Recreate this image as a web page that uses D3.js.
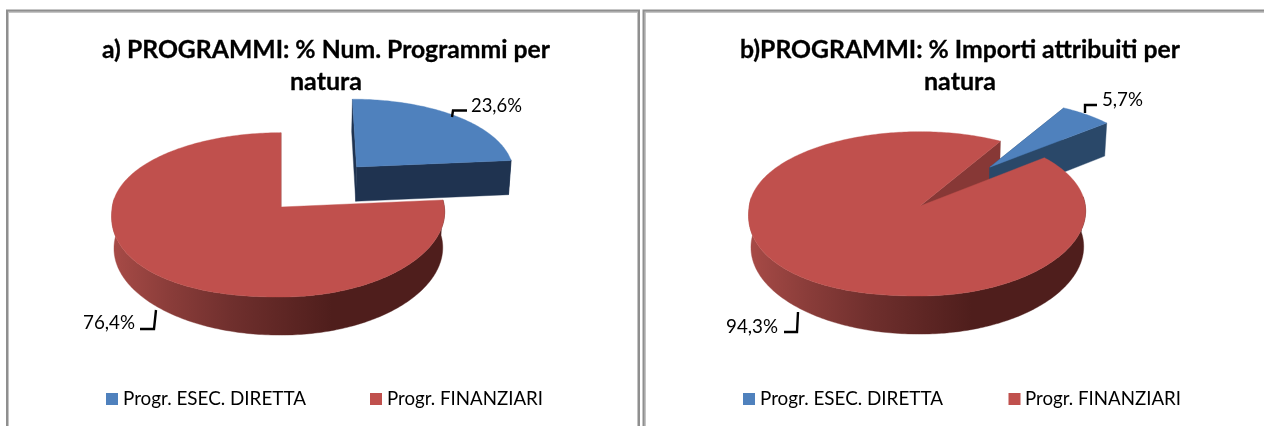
<!DOCTYPE html>
<html><head><meta charset="utf-8">
<script src="https://cdn.jsdelivr.net/npm/d3@7/dist/d3.min.js"></script>
<style>html,body{margin:0;padding:0;background:#fff;overflow:hidden}svg{display:block;filter:blur(0.35px)}text{font-family:Lato,"Open Sans",sans-serif;fill:#000}</style>
</head><body><svg id="c" width="1264" height="426"></svg>
<script>
// ---- data ----
const categories = ["Progr. ESEC. DIRETTA", "Progr. FINANZIARI"];
const valuesA = [23.6, 76.4];
const valuesB = [5.7, 94.3];
const labelsA = ["23,6%", "76,4%"];
const labelsB = ["5,7%", "94,3%"];
const titleA = ["a) PROGRAMMI: % Num. Programmi per", "natura"];
const titleB = ["b)PROGRAMMI: % Importi attribuiti per", "natura"];

// ---- layout ----
const panels = [
  {values:valuesA, labels:labelsA, title:titleA, ax:281, ay:207, bx:166, start:0, explode:0.7, sideBlue:"#1f3350",
   titleX:326, titleW:[448,72], legend:[[106,123,183],[370,387,156]],
   labelPos:[[471,112,51],[83,329,52]],
   leaders:[[[452,117],[453,110.5],[467,110.5]],[[156,310],[154,329],[140,329]]]},
  {values:valuesB, labels:labelsB, title:titleB, ax:920, ay:206, bx:168, start:30.5, explode:0.66, sideBlue:"#2a4869",
   titleX:960, titleW:[440,72], legend:[[743,760,183],[1008.5,1025,156]],
   labelPos:[[1102,106,41],[726,333,52]],
   leaders:[[[1085,113],[1085,105],[1097,105]],[[798,312],[797,332],[784,332]]]}
];
const KY=0.0955, KX=0.06, M=0.016, N=0.012, A=81.4, D=36;
const blue="#4f81bd", red="#c0504d", redWall="#873836";
const svg=d3.select("#c");

function addGrad(id,x0,x1){
  const g=svg.append("defs").append("linearGradient").attr("id",id).attr("gradientUnits","userSpaceOnUse")
    .attr("x1",x0).attr("x2",x1).attr("y1",0).attr("y2",0);
  [[0,"#a64a46"],[0.22,"#8b3d3a"],[0.49,"#6f2f2d"],[0.9,"#4f1e1c"],[1,"#4f1e1c"]].forEach(s=>
    g.append("stop").attr("offset",s[0]).attr("stop-color",s[1]));
}

// frames
[[7.5,11,631,430],[644,11,640,430]].forEach(f=>{
  svg.append("rect").attr("x",f[0]).attr("y",f[1]).attr("width",f[2]).attr("height",f[3])
    .attr("fill","#fff").attr("stroke","#8f8f8f").attr("stroke-width",3);
  svg.append("rect").attr("x",f[0]+1).attr("y",f[1]+1).attr("width",f[2]-2).attr("height",f[3])
    .attr("fill","none").attr("stroke","#c4c4c4").attr("stroke-width",1);
});

panels.forEach((p,pi)=>{
  const gid="wall"+pi;
  addGrad(gid,p.ax-p.bx,p.ax+p.bx*0.45);
  const proj=(u,v,z)=>[
    p.ax+p.bx*u/(1+KX*v+M*u+N*z),
    p.ay+(-A*v+D*z)/(1+KY*v+N*z)
  ];
  // rim point; the reference's front-left quadrant bulges slightly, more on the top plane
  const rim=(t,z)=>{
    const s=Math.sin(t), c=Math.cos(t);
    if(s<0&&c<0){ const e=z?0.97:0.87; return [-Math.pow(-s,e),-Math.pow(-c,e)]; }
    return [s,c];
  };
  const pie=d3.pie().sort(null).startAngle(p.start*Math.PI/180).endAngle(p.start*Math.PI/180+2*Math.PI);
  const arcs=pie(p.values);
  const line=d3.line();
  const geo=arcs.map((a,i)=>{
    const mid=(a.startAngle+a.endAngle)/2;
    const e=i===0?p.explode:0;
    const ox=e*Math.sin(mid), oy=e*Math.cos(mid);
    const n=Math.max(8,Math.ceil((a.endAngle-a.startAngle)*60));
    const ang=d3.range(n+1).map(k=>a.startAngle+(a.endAngle-a.startAngle)*k/n);
    const front=ang.filter(t=>Math.cos(t)<0.12);
    const pt=(t,z)=>{const r=rim(t,z); return proj(ox+r[0],oy+r[1],z);};
    const c=z=>proj(ox,oy,z);
    return {
      top:[c(0),...ang.map(t=>pt(t,0))],
      outer:front.length>1?[...front.map(t=>pt(t,0)),...front.slice().reverse().map(t=>pt(t,1))]:null,
      wallStart:[c(0),pt(a.startAngle,0),pt(a.startAngle,1),c(1)],
      wallEnd:[c(0),pt(a.endAngle,0),pt(a.endAngle,1),c(1)]
    };
  });
  const draw=(pts,fill)=>{ if(pts) svg.append("path").attr("d",line(pts)+"Z").attr("fill",fill).attr("stroke",fill).attr("stroke-width",0.4); };
  // painter's order: red cut face, blue slice, red body
  draw(geo[1].wallEnd,redWall);
  draw(geo[0].wallStart,p.sideBlue);
  draw(geo[0].outer,p.sideBlue);
  draw(geo[0].wallEnd,p.sideBlue);
  draw(geo[0].top,blue);
  draw(geo[1].outer,`url(#${gid})`);
  draw(geo[1].top,red);

  p.title.forEach((t,i)=>svg.append("text").text(t).attr("x",p.titleX).attr("y",58+32*i)
    .attr("text-anchor","middle").attr("font-size",25).attr("font-weight",700)
    .attr("stroke","#000").attr("stroke-width",0.3)
    .attr("textLength",p.titleW[i]).attr("lengthAdjust","spacingAndGlyphs"));
  p.leaders.forEach(l=>svg.append("path").attr("d",d3.line()(l)).attr("fill","none").attr("stroke","#000").attr("stroke-width",2.4));
  p.labels.forEach((t,i)=>svg.append("text").text(t).attr("x",p.labelPos[i][0]).attr("y",p.labelPos[i][1])
    .attr("font-size",19.5).attr("textLength",p.labelPos[i][2]).attr("lengthAdjust","spacingAndGlyphs"));
  categories.forEach((c,i)=>{
    const l=p.legend[i];
    svg.append("rect").attr("x",l[0]).attr("y",393).attr("width",12).attr("height",12).attr("fill",i?red:blue);
    svg.append("text").text(c).attr("x",l[1]).attr("y",405).attr("font-size",19.5)
      .attr("textLength",l[2]).attr("lengthAdjust","spacingAndGlyphs");
  });
});
</script></body></html>
